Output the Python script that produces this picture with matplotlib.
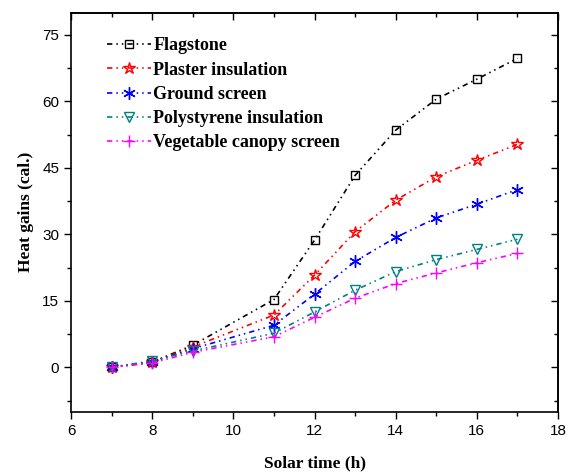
import matplotlib
matplotlib.use("Agg")
import matplotlib.pyplot as plt
from matplotlib.ticker import MultipleLocator

hours = [7, 8, 9, 11, 12, 13, 14, 15, 16, 17]
flagstone = [0.1, 1.2, 5.0, 15.3, 28.7, 43.3, 53.5, 60.5, 65.0, 69.7]
plaster = [0.0, 1.2, 4.6, 11.8, 20.8, 30.6, 37.7, 43.0, 46.7, 50.3]
ground = [0.0, 1.2, 4.2, 9.5, 16.5, 23.9, 29.3, 33.7, 36.8, 40.1]
polystyrene = [0.0, 1.5, 3.7, 7.7, 12.5, 17.4, 21.6, 24.3, 26.6, 28.9]
vegetable = [0.0, 1.0, 3.4, 6.9, 11.3, 15.6, 18.9, 21.3, 23.6, 25.7]

series = [
    ("Flagstone", flagstone, "black", "s", 5.8),
    ("Plaster insulation", plaster, "red", "*", 9),
    ("Ground screen", ground, "blue", (6, 2, 0), 9),
    ("Polystyrene insulation", polystyrene, "#008080", "v", 7.5),
    ("Vegetable canopy screen", vegetable, "magenta", "+", 9),
]

serif = ["Liberation Serif", "DejaVu Serif"]
sans = ["Liberation Sans", "DejaVu Sans"]

fig = plt.figure(figsize=(5.76, 4.73), dpi=100)
ax = fig.add_axes([0.1233, 0.1296, 0.8455, 0.8436])

ls = (0, (3.2, 2.4, 0.9, 2.4, 0.9, 2.4))
for name, vals, col, mk, ms in series:
    kw = dict(markerfacecolor="none", markeredgecolor=col, markeredgewidth=1.0)
    ax.plot(hours, vals, linestyle=ls, color=col, linewidth=1.2, marker=mk,
            markersize=ms, label=name, **kw)

ax.set_xlim(6, 18)
ax.set_ylim(-10, 80)
ax.xaxis.set_major_locator(MultipleLocator(2))
ax.xaxis.set_minor_locator(MultipleLocator(1))
ax.yaxis.set_major_locator(MultipleLocator(15))
ax.yaxis.set_minor_locator(MultipleLocator(7.5))
ax.tick_params(which="major", direction="out", length=5, width=1.0,
               labelsize=11)
ax.tick_params(which="minor", direction="out", length=3, width=1.0)
for lab in ax.get_xticklabels() + ax.get_yticklabels():
    lab.set_family(sans)
for s in ax.spines.values():
    s.set_linewidth(1.2)

top = ax.secondary_xaxis("top")
top.xaxis.set_major_locator(MultipleLocator(2))
top.xaxis.set_minor_locator(MultipleLocator(1))
top.tick_params(which="major", direction="in", length=5, width=1.0, labeltop=False)
top.tick_params(which="minor", direction="in", length=3, width=1.0)
right = ax.secondary_yaxis("right")
right.yaxis.set_major_locator(MultipleLocator(15))
right.yaxis.set_minor_locator(MultipleLocator(7.5))
right.tick_params(which="major", direction="in", length=5, width=1.0, labelright=False)
right.tick_params(which="minor", direction="in", length=3, width=1.0)
for sp in (top.spines.values()):
    sp.set_linewidth(1.2)
for sp in (right.spines.values()):
    sp.set_linewidth(1.2)

ax.set_xlabel("Solar time (h)", fontsize=12.5, fontweight="bold", family=serif, labelpad=13)
ax.set_ylabel("Heat gains (cal.)", fontsize=12.5, fontweight="bold", family=serif, labelpad=6)

leg = ax.legend(loc="upper left", bbox_to_anchor=(0.052, 0.965), frameon=False,
                prop={"family": serif, "weight": "bold", "size": 13},
                handlelength=2.4, handletextpad=0.15, labelspacing=0.40,
                borderaxespad=0.2)

fig.savefig("out.png", dpi=100)
